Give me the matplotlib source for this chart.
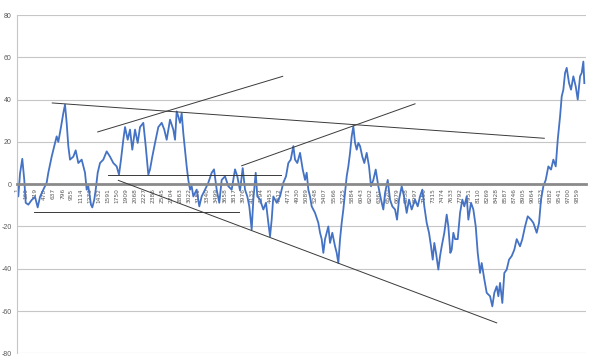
import matplotlib
matplotlib.use("Agg")
import matplotlib.pyplot as plt

# ---- data ----
step_idx = [1, 18, 48, 88, 123, 148, 194, 253, 312, 359, 400, 458, 517, 546, 605, 664, 693, 722, 769, 810,
            840, 869, 898, 928, 986, 1028, 1074, 1133, 1192, 1221, 1250, 1297, 1320, 1355, 1380, 1415, 1456,
            1514, 1573, 1632, 1690, 1749, 1790, 1825, 1866, 1896, 1943, 1984, 2024, 2072, 2119, 2160, 2218,
            2260, 2306, 2336, 2376, 2424, 2482, 2541, 2587, 2629, 2688, 2746, 2776, 2805, 2834, 2864, 2893,
            2922, 2952, 2981, 3010, 3040, 3069, 3098, 3157, 3203, 3245, 3304, 3362, 3421, 3462, 3509, 3555,
            3597, 3656, 3714, 3773, 3832, 3872, 3920, 3967, 4008, 4048, 4083, 4125, 4154, 4196, 4224, 4272,
            4330, 4377, 4418, 4448, 4477, 4506, 4565, 4624, 4682, 4729, 4770, 4812, 4858, 4888, 4928, 4976,
            5023, 5064, 5093, 5122, 5152, 5181, 5240, 5298, 5328, 5357, 5386, 5416, 5445, 5474, 5504, 5544,
            5592, 5621, 5650, 5680, 5709, 5738, 5768, 5797, 5826, 5856, 5885, 5914, 5944, 5973, 6002, 6032,
            6072, 6107, 6149, 6190, 6225, 6266, 6308, 6354, 6401, 6442, 6472, 6519, 6560, 6600, 6648, 6683,
            6718, 6765, 6806, 6853, 6894, 6941, 6999, 7047, 7088, 7128, 7163, 7205, 7246, 7281, 7311, 7339,
            7369, 7410, 7440, 7469, 7515, 7557, 7586, 7621, 7645, 7674, 7704, 7751, 7792, 7832, 7867, 7909,
            7938, 7985, 8026, 8068, 8103, 8144, 8173, 8219, 8261, 8320, 8360, 8395, 8437, 8466, 8496, 8536,
            8571, 8613, 8654, 8701, 8747, 8789, 8847, 8888, 8936, 8983, 9041, 9082, 9141, 9182, 9217, 9258,
            9300, 9346, 9393, 9434, 9476, 9511, 9552, 9581, 9610, 9640, 9669, 9710, 9745, 9786, 9828, 9863,
            9904, 9933, 9962, 9979]
walk_values = [0, -5.8, 5, 12, 2, -8.8, -9.7, -7.5, -6, -11, -6, -2.6, 0.7, 5.4, 13, 19.5, 22.6, 20, 27, 33.6,
               37.6, 29, 18, 11.6, 13, 16, 10, 11.6, 5.4, -2.6, -1, -9.7, -11, -7.3, -2.6, 5.4, 10,
               11.6, 15.5, 13, 10, 8.4, 4.5, 11.6, 21, 27, 21, 25.8, 16.3, 25.8, 19.5, 27, 29,
               18, 4.5, 7, 13, 19.5, 27, 29, 25.8, 21, 30.5, 25.8, 21, 34.4, 32, 29, 33.6,
               24, 16.3, 8.4, 2, -2.6, -1, -5.8, -2.6, -10.5, -5.8, -2.6, 0.7, 5.4, 7, -2.6, -8.8,
               2, 3.7, -1, -2.6, 7, 3.7, -3, 7.6, -2.6, -5.8, -10.5, -21.5, -7.3, 5.4, -5.8, -7.3,
               -12, -8.8, -18.3, -24.7, -16.8, -5.8, -8.8, -5.8, 0.7, 3.7, 10, 11.6, 18, 11.6, 10, 14.8,
               7, 2, 5.4, -2.6, -5.8, -10.5, -13.6, -18.3, -23, -26, -32.5, -26, -23, -20, -27.8, -23,
               -29.4, -32.5, -37.3, -26, -18.3, -12, -4.2, 3.7, 8.4, 14.8, 22.6, 27.3, 19.5, 16.3, 19.5, 18,
               13, 10, 14.8, 8.4, -1, 2, 6.9, -1, -7.3, -12, -4.2, 2, -7.3, -10.5, -12, -16.8,
               -7.3, -1, -5.8, -13.6, -7.3, -12, -7.3, -10.5, -5.8, -2.6, -10.5, -18.3, -23, -29.4, -35.7, -27.8,
               -32.5, -40.4, -34, -29.4, -23, -14.4, -20, -32.5, -31, -23, -26, -26, -13.6, -7.3, -10.5, -5.8,
               -16.8, -8.8, -12, -20, -32.5, -42, -37.3, -45, -51.4, -53, -57.8, -51.4, -48.3, -53, -46.7, -56.2,
               -42, -40.4, -35.7, -34, -31, -26, -29.4, -26, -20, -15.2, -16.8, -18.3, -23, -18.3, -7.3, -1,
               2, 8.4, 6.9, 11.6, 8.4, 21, 32, 41.5, 44.7, 52.6, 55, 47.8, 44.7, 51, 46.2, 40,
               51, 52.6, 58, 47.8]

# trend lines: (start index, start value, end index, end value)
trend_lines = [
    (616, 38.4, 9275, 21.7),
    (1415, 24.7, 4671, 51.0),
    (3949, 8.7, 7000, 38.0),
    (1602, 4.5, 4636, 4.5),
    (299, -13.0, 3907, -13.0),
    (1778, 1.8, 8437, -65.6),
]

x_tick_labels = [str(1 + 159 * k) for k in range(63)]
y_ticks = [-80, -60, -40, -20, 0, 20, 40, 60, 80]

# ---- figure ----
fig = plt.figure(figsize=(5.9, 3.6), dpi=100)
ax = fig.add_axes([0.0293, 0.0186, 0.9631, 0.9397])

ax.plot(step_idx, walk_values, color="#4472C4", lw=1.3, zorder=2)
for x0, y0, x1, y1 in trend_lines:
    ax.plot([x0, x1], [y0, y1], color="#3a3a3a", lw=0.7, zorder=3)

ax.set_xlim(0, 10000)
ax.set_ylim(-80, 80)

ax.tick_params(axis="both", length=0)
ax.tick_params(axis="y", pad=4, labelsize=5, labelcolor="#595959")
ax.tick_params(axis="x", pad=3, labelsize=4.2, labelcolor="#595959", labelrotation=90)

ax.set_yticks(y_ticks)
ax.set_yticklabels([str(v) for v in y_ticks], family=["Liberation Sans", "DejaVu Sans"])
ax.set_xticks([int(s) for s in x_tick_labels])
ax.set_xticklabels(x_tick_labels, family=["Liberation Sans", "DejaVu Sans"])
for t in ax.get_xticklabels():
    t.set_rotation(90)
    t.set_va("top")
    t.set_ha("center")

ax.yaxis.grid(True, color="#c6c6c6", lw=0.8)
ax.set_axisbelow(True)

for s in ("top", "right"):
    ax.spines[s].set_visible(False)
ax.spines["bottom"].set_position(("data", 0))
ax.spines["bottom"].set_color("#8a8a8a")
ax.spines["bottom"].set_linewidth(2.0)
ax.spines["bottom"].set_zorder(2.5)
ax.spines["left"].set_color("#c6c6c6")
ax.spines["left"].set_linewidth(0.8)

fig.savefig("out.png", dpi=100)
